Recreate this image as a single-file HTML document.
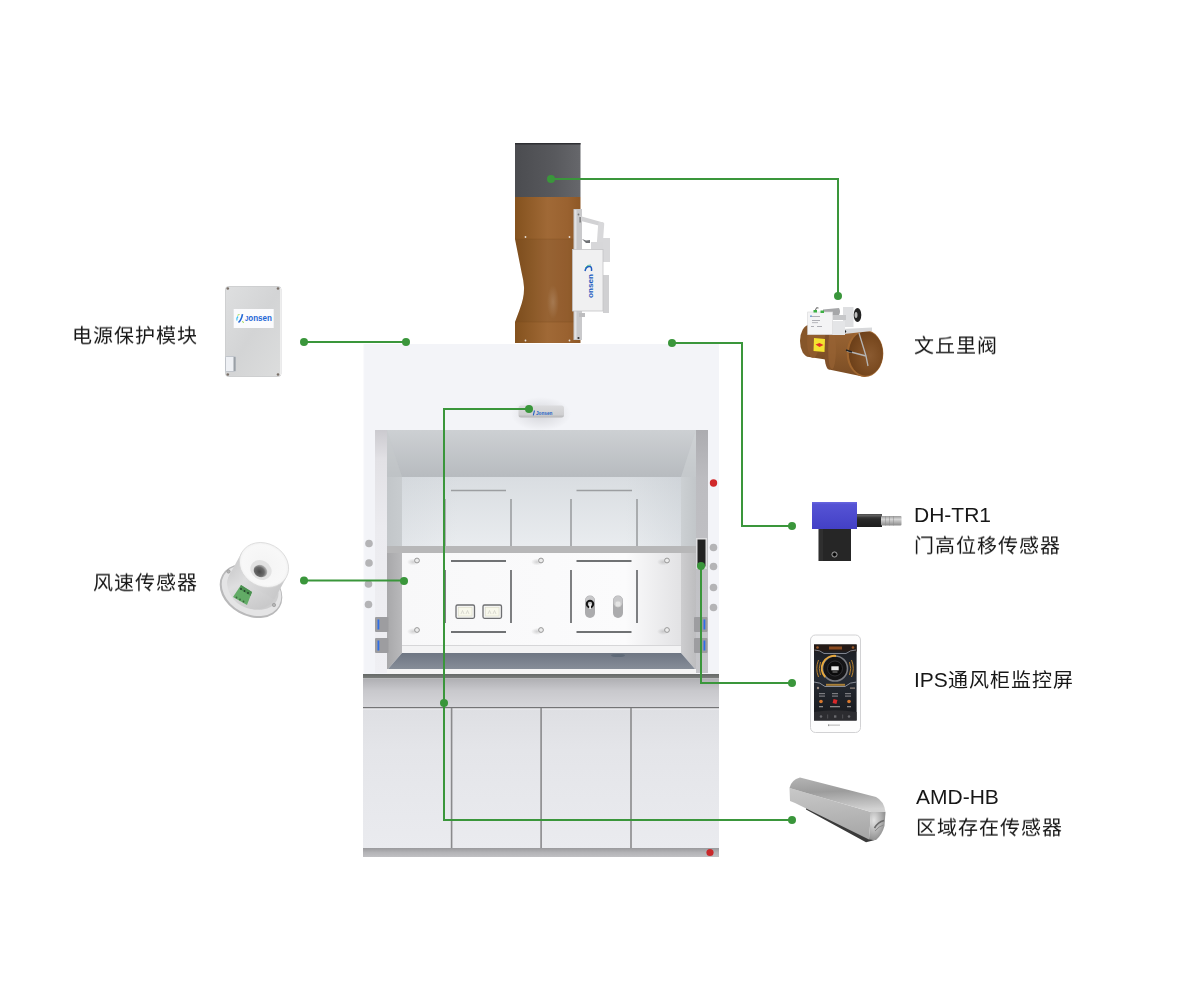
<!DOCTYPE html>
<html lang="zh-CN"><head><meta charset="utf-8"><style>
html,body{margin:0;padding:0;}
body{width:1200px;height:1000px;background:#fff;position:relative;overflow:hidden;font-family:"Liberation Sans",sans-serif;}
svg{position:absolute;left:0;top:0;}
.t{position:absolute;font-size:20px;line-height:30px;color:#161616;will-change:transform;letter-spacing:1px;white-space:nowrap;}
.l{font-size:21px;letter-spacing:0;}
.c{display:inline-block;transform:scaleY(0.95);transform-origin:0 50%;}
</style></head><body>
<svg width="1200" height="1000" viewBox="0 0 1200 1000">
<defs>
<linearGradient id="gDuctDark" x1="0" x2="1" y1="0" y2="0"><stop offset="0" stop-color="#4b4c50"/><stop offset="0.6" stop-color="#58595d"/><stop offset="1" stop-color="#66676b"/></linearGradient>
<linearGradient id="gDuctBrown" x1="0" x2="1" y1="0" y2="0"><stop offset="0" stop-color="#84521e"/><stop offset="0.5" stop-color="#a06936"/><stop offset="0.8" stop-color="#9a6230"/><stop offset="1" stop-color="#8e5826"/></linearGradient>
<linearGradient id="gCeil" x1="0" x2="0" y1="0" y2="1"><stop offset="0" stop-color="#cdd0d3"/><stop offset="1" stop-color="#b7bbbf"/></linearGradient>
<linearGradient id="gBackH" x1="0" x2="1" y1="0" y2="0"><stop offset="0" stop-color="#b0b8c0" stop-opacity="0.12"/><stop offset="0.2" stop-color="#b0b8c0" stop-opacity="0"/><stop offset="0.8" stop-color="#b0b8c0" stop-opacity="0"/><stop offset="1" stop-color="#a8b0b8" stop-opacity="0.2"/></linearGradient>
<linearGradient id="gBack" x1="0" x2="0" y1="0" y2="1"><stop offset="0" stop-color="#d9dde1"/><stop offset="1" stop-color="#e9ecef"/></linearGradient>
<linearGradient id="gSideUL" x1="0" x2="1" y1="0" y2="0"><stop offset="0" stop-color="#c2c6c9"/><stop offset="1" stop-color="#c8cccf"/></linearGradient>
<linearGradient id="gSideUR" x1="0" x2="1" y1="0" y2="0"><stop offset="0" stop-color="#ccd0d3"/><stop offset="1" stop-color="#c2c6c9"/></linearGradient>
<linearGradient id="gSideL" x1="0" x2="1" y1="0" y2="0"><stop offset="0" stop-color="#a8a8aa"/><stop offset="1" stop-color="#b9b9bb"/></linearGradient>
<linearGradient id="gSideR" x1="0" x2="1" y1="0" y2="0"><stop offset="0" stop-color="#cdcdcf"/><stop offset="1" stop-color="#bdbdbf"/></linearGradient>
<linearGradient id="gPostL" x1="0" x2="0" y1="0" y2="1"><stop offset="0" stop-color="#cbcacf"/><stop offset="0.12" stop-color="#e2e1e5"/><stop offset="0.4" stop-color="#ebebef"/><stop offset="1" stop-color="#efeff3"/></linearGradient>
<linearGradient id="gPostR" x1="0" x2="0" y1="0" y2="1"><stop offset="0" stop-color="#acacb0"/><stop offset="0.2" stop-color="#bcbcc0"/><stop offset="1" stop-color="#c6c6ca"/></linearGradient>
<linearGradient id="gPost" x1="0" x2="0" y1="0" y2="1"><stop offset="0" stop-color="#cfcdd1"/><stop offset="0.3" stop-color="#e3e2e6"/><stop offset="1" stop-color="#e8e8ec"/></linearGradient>
<linearGradient id="gPanel" x1="0" x2="1" y1="0" y2="0"><stop offset="0" stop-color="#f8f8f9"/><stop offset="0.8" stop-color="#fbfbfc"/><stop offset="1" stop-color="#e2e2e4"/></linearGradient>
<linearGradient id="gWork" x1="0" x2="0" y1="0" y2="1"><stop offset="0" stop-color="#6e7683"/><stop offset="1" stop-color="#868d98"/></linearGradient>
<linearGradient id="gCounter" x1="0" x2="0" y1="0" y2="1"><stop offset="0" stop-color="#656967"/><stop offset="1" stop-color="#7c7e7d"/></linearGradient>
<linearGradient id="gApron" x1="0" x2="0" y1="0" y2="1"><stop offset="0" stop-color="#b0b0b4"/><stop offset="0.4" stop-color="#c8c8cc"/><stop offset="1" stop-color="#d6d6da"/></linearGradient>
<linearGradient id="gDoor" x1="0" x2="0" y1="0" y2="1"><stop offset="0" stop-color="#dedfe3"/><stop offset="0.3" stop-color="#e4e5e9"/><stop offset="1" stop-color="#eaebef"/></linearGradient>
<linearGradient id="gBase" x1="0" x2="0" y1="0" y2="1"><stop offset="0" stop-color="#9a9a9d"/><stop offset="0.5" stop-color="#b3b3b6"/><stop offset="1" stop-color="#c0c0c3"/></linearGradient>
</defs>

<!-- duct -->
<rect x="515" y="143" width="65.5" height="54" fill="url(#gDuctDark)"/>
<rect x="515" y="143" width="65.5" height="1.5" fill="#2e2f33"/>
<path d="M515 197 H580.5 V343 H515 V322 L519.5 310 Q524.5 297 524 287 Q523.5 280 521.5 272 L515 239 Z" fill="url(#gDuctBrown)"/>

<!-- hood body -->
<rect x="363" y="344" width="356" height="513" fill="#f3f4f8"/>
<rect x="363" y="344" width="1.2" height="513" fill="#fafafc"/>
<!-- ceiling -->
<path d="M375 430 H708 V477 H375 Z" fill="url(#gCeil)"/>
<!-- back wall -->
<rect x="402" y="477" width="279" height="69" fill="url(#gBack)"/>
<rect x="402" y="477" width="279" height="69" fill="url(#gBackH)"/>
<!-- side walls -->
<path d="M387 477 H402 V546 H387 Z" fill="url(#gSideUL)"/>
<path d="M387 430 L402 477 H387 Z" fill="#c6c9cc" opacity="0.5"/>
<path d="M387 553 H402 V653 L388 669 H387 Z" fill="url(#gSideL)"/>
<path d="M696 477 H681 V546 H696 Z" fill="url(#gSideUR)"/>
<path d="M696 430 L681 477 H696 Z" fill="#d2d5d8" opacity="0.5"/>
<path d="M696 553 H681 V653 L695 669 H696 Z" fill="url(#gSideR)"/>
<!-- posts -->
<rect x="375" y="430" width="12" height="243" fill="url(#gPostL)"/>
<rect x="696" y="430" width="12" height="243" fill="url(#gPostR)"/>
<!-- back panel lines -->
<g stroke="#9c9ea1" stroke-width="1.6">
<path d="M451 490.5 H506 M576.5 490.5 H632 M445 499 V546 M511 499 V546 M571 499 V546 M637 499 V546"/>
</g>
<!-- shelf -->
<rect x="387" y="546" width="309" height="7" fill="#b7b7b8"/>
<!-- lower panel -->
<rect x="402" y="553" width="279" height="92" fill="url(#gPanel)"/>
<rect x="402" y="645" width="279" height="8" fill="#f3f3f4"/>
<rect x="402" y="645" width="279" height="1" fill="#d6d6d8"/>
<g stroke="#707274" stroke-width="1.8">
<path d="M451 561 H506 M451 632 H506 M576.5 561 H631.5 M576.5 632 H631.5"/>
<path d="M445 570 V623 M511 570 V623 M571 570 V623 M637 570 V623"/>
</g>
<!-- screws -->
<defs><radialGradient id="gScrSh" cx="0.5" cy="0.5" r="0.5"><stop offset="0" stop-color="#8a8a8a" stop-opacity="0.35"/><stop offset="1" stop-color="#8a8a8a" stop-opacity="0"/></radialGradient></defs>
<g fill="url(#gScrSh)">
<ellipse cx="413" cy="562" rx="6" ry="3.5"/><ellipse cx="413" cy="631.5" rx="6" ry="3.5"/>
<ellipse cx="537" cy="562" rx="6" ry="3.5"/><ellipse cx="537" cy="631.5" rx="6" ry="3.5"/>
<ellipse cx="663" cy="562" rx="6" ry="3.5"/><ellipse cx="663" cy="631.5" rx="6" ry="3.5"/>
</g>
<g fill="#ececec" stroke="#8e8e8e" stroke-width="0.9">
<circle cx="417" cy="560.5" r="2.4"/><circle cx="417" cy="630" r="2.4"/>
<circle cx="541" cy="560.5" r="2.4"/><circle cx="541" cy="630" r="2.4"/>
<circle cx="667" cy="560.5" r="2.4"/><circle cx="667" cy="630" r="2.4"/>
</g>
<!-- outlets -->
<g>
<rect x="456" y="605" width="18.5" height="13.3" rx="1.5" fill="#f4f4f2" stroke="#6e6f72" stroke-width="1.3"/>
<rect x="483" y="605" width="18.5" height="13.3" rx="1.5" fill="#f4f4f2" stroke="#6e6f72" stroke-width="1.3"/>
<rect x="458.5" y="607.3" width="13.5" height="8.7" fill="#f8f8ec" stroke="#dcdcc8" stroke-width="0.6"/>
<rect x="485.5" y="607.3" width="13.5" height="8.7" fill="#f8f8ec" stroke="#dcdcc8" stroke-width="0.6"/>
<path d="M461 614 L462.5 610.5 L464 614 M466 614 L467.5 610.5 L469 614 M488 614 L489.5 610.5 L491 614 M493 614 L494.5 610.5 L496 614" stroke="#c8c8c0" stroke-width="0.6" fill="none"/>
</g>
<!-- switches -->
<rect x="585" y="595.5" width="10" height="22.5" rx="5" fill="#ababad"/>
<rect x="585.5" y="596" width="9" height="11" rx="4.5" fill="#c8c8ca"/>
<circle cx="590" cy="604" r="3.2" fill="none" stroke="#151515" stroke-width="2"/>
<rect x="589.2" y="604" width="1.8" height="5" fill="#eee"/>
<rect x="613" y="595.5" width="10" height="22.5" rx="5" fill="#ababad"/>
<rect x="613.5" y="596" width="9" height="11" rx="4.5" fill="#c8c8ca"/>
<circle cx="618" cy="604" r="3" fill="#e4e4e4" stroke="#cfcfcf" stroke-width="0.8"/>
<!-- work surface -->
<path d="M402 653 H681 L695 669 H388 Z" fill="url(#gWork)"/>
<ellipse cx="618" cy="655.5" rx="7" ry="1.6" fill="#5f6a78"/>
<rect x="387" y="669" width="309" height="5" fill="#f4f4f4"/>
<!-- countertop -->
<rect x="363" y="674" width="356" height="4.5" fill="url(#gCounter)"/>
<rect x="363" y="679" width="356" height="28.5" fill="url(#gApron)"/>
<rect x="363" y="707" width="356" height="1.6" fill="#747476"/>
<rect x="363" y="708.6" width="356" height="139.4" fill="url(#gDoor)"/>
<rect x="363" y="708.6" width="356" height="1" fill="#ededf0"/>
<g fill="#8a8a8c"><rect x="450.8" y="708" width="1.6" height="140"/><rect x="540.3" y="708" width="1.6" height="140"/><rect x="630.2" y="708" width="1.6" height="140"/></g>
<rect x="363" y="848" width="356" height="9" fill="url(#gBase)"/>
<circle cx="710" cy="852.5" r="3.6" fill="#c9282a"/>
<circle cx="713.5" cy="483" r="3.7" fill="#d0282a"/>
<!-- side frame circles -->
<g fill="#b4b4b6">
<circle cx="369" cy="543.5" r="3.8"/><circle cx="369" cy="563" r="3.8"/><circle cx="368.5" cy="584" r="3.8"/><circle cx="368.5" cy="604.5" r="3.8"/>
<circle cx="713.5" cy="547.5" r="3.8"/><circle cx="713.5" cy="566.5" r="3.8"/><circle cx="713.5" cy="587.5" r="3.8"/><circle cx="713.5" cy="607.5" r="3.8"/>
</g>
<!-- hinges -->
<g fill="#9d9da0">
<rect x="375" y="617" width="13.5" height="15" rx="1"/><rect x="375" y="638" width="13.5" height="15" rx="1"/>
<rect x="694" y="617" width="13.5" height="15" rx="1"/><rect x="694" y="638" width="13.5" height="15" rx="1"/>
</g>
<g fill="#2f6fe8">
<rect x="377.5" y="619.5" width="1.8" height="10"/><rect x="377.5" y="640.5" width="1.8" height="10"/>
<rect x="703.5" y="619.5" width="1.8" height="10"/><rect x="703.5" y="640.5" width="1.8" height="10"/>
</g>
<!-- door sensor -->
<rect x="696" y="538" width="11" height="31" fill="#dcdcde"/>
<rect x="697.5" y="539.5" width="8" height="27" fill="#222"/>
<!-- top sensor -->
<defs><radialGradient id="gShadow" cx="0.5" cy="0.5" r="0.5"><stop offset="0" stop-color="#9a9aa0" stop-opacity="0.35"/><stop offset="1" stop-color="#9a9aa0" stop-opacity="0"/></radialGradient>
<linearGradient id="gSens" x1="0" x2="0" y1="0" y2="1"><stop offset="0" stop-color="#dcdcde"/><stop offset="0.75" stop-color="#cfcfd1"/><stop offset="1" stop-color="#b5b5b7"/></linearGradient></defs>
<ellipse cx="541" cy="414" rx="30" ry="17" fill="url(#gShadow)"/>
<rect x="518.5" y="405.5" width="45.5" height="12" rx="2.5" fill="url(#gSens)"/>
<text x="536" y="414.8" font-family="Liberation Sans" font-weight="bold" font-size="5.5" fill="#1f5fc4" textLength="16.5" lengthAdjust="spacingAndGlyphs">Jonsen</text><path d="M534.5 410.5 L533.3 415.3" stroke="#1f5fc4" stroke-width="1.1"/>
<!-- duct shading -->
<path d="M515 239 L521.5 272 Q523.5 280 524 287 Q524.5 297 519.5 310 L515 322 H580.5 V239 Z" fill="#000" opacity="0.05"/>
<rect x="515" y="321.5" width="65.5" height="1" fill="#7a4c1c" opacity="0.35"/>
<rect x="515" y="238.5" width="65.5" height="1" fill="#7a4c1c" opacity="0.25"/>
<defs><radialGradient id="gHi"><stop offset="0" stop-color="#fff" stop-opacity="0.15"/><stop offset="1" stop-color="#fff" stop-opacity="0"/></radialGradient></defs><ellipse cx="553" cy="302" rx="6" ry="17" fill="url(#gHi)"/>
<g fill="#e8e0d8"><circle cx="525.5" cy="237" r="0.9"/><circle cx="569.5" cy="237" r="0.9"/><circle cx="525.5" cy="340.5" r="0.9"/><circle cx="569.5" cy="340.5" r="0.9"/></g>
<!-- valve actuator on duct -->
<g>
<rect x="573.5" y="209" width="8.5" height="131" fill="#c9c9cb"/>
<rect x="574.5" y="210" width="2" height="129" fill="#e2e2e4"/>
<path d="M580 216 L603 222.5 L602.5 226.5 L579 220.5 Z" fill="#d2d2d4"/>
<rect x="579.5" y="217" width="1.2" height="5.5" fill="#666"/>
<circle cx="578.5" cy="214.5" r="0.9" fill="#777"/>
<path d="M582 239 L586 240.5 L590 240 L590 243 L586 243 Z" fill="#707276"/>
<rect x="597.5" y="222" width="6" height="25" rx="1.5" fill="#d8d8da" transform="rotate(4 600 234)"/>
<rect x="591" y="242" width="14" height="10" fill="#d7d7d9"/>
<rect x="603" y="238" width="7" height="24" fill="#d8d8da"/>
<rect x="603" y="275" width="6" height="38" fill="#d0d0d2"/>
<rect x="572.5" y="249.5" width="30.5" height="61.5" fill="#f0f0f1"/>
<rect x="572.5" y="249.5" width="30.5" height="61.5" fill="none" stroke="#c4c4c6" stroke-width="0.8"/>
<rect x="579" y="313" width="6" height="4" fill="#bdbdbf"/>
<circle cx="578.5" cy="338" r="1.1" fill="#333"/>
<text transform="translate(592.5,298) rotate(-90)" font-family="Liberation Sans" font-weight="bold" font-size="8" fill="#1f5bc0" textLength="24" lengthAdjust="spacingAndGlyphs">onsen</text><path d="M585 271 Q586 266 590 266.5 Q592 267 591.5 271" stroke="#1f5bc0" stroke-width="1.5" fill="none"/><path d="M585 268 Q587 264.5 591 265" stroke="#5cc0a0" stroke-width="1" fill="none"/>
</g>

<!-- power module -->
<defs>
<linearGradient id="gBox" x1="0" x2="1" y1="0" y2="1"><stop offset="0" stop-color="#dedfe0"/><stop offset="0.5" stop-color="#d3d4d5"/><stop offset="1" stop-color="#dcdddd"/></linearGradient>
</defs>
<rect x="225.5" y="286.5" width="55.5" height="90" rx="3" fill="url(#gBox)"/>
<rect x="225.5" y="286.5" width="55.5" height="90" rx="3" fill="none" stroke="#c2c3c4" stroke-width="0.7"/>
<rect x="280" y="288" width="1" height="87" fill="#eeeeee"/>
<g fill="#7a7068"><circle cx="227.8" cy="288.5" r="1.3"/><circle cx="278" cy="288.5" r="1.3"/><circle cx="227.8" cy="374.5" r="1.3"/><circle cx="278" cy="374.5" r="1.3"/></g>
<rect x="233.7" y="309" width="40" height="19" fill="#fbfbfd"/>
<text x="245" y="321.3" font-family="Liberation Sans" font-weight="bold" fill="#1f66d6" textLength="27" lengthAdjust="spacingAndGlyphs"><tspan font-size="7">J</tspan><tspan font-size="9.5">onsen</tspan></text>
<path d="M242.5 314.2 Q241.5 320 238.5 322.5" fill="none" stroke="#1f66d6" stroke-width="1.6"/>
<path d="M238 316.5 Q236 318.5 237 320.5" fill="none" stroke="#3cc0f0" stroke-width="1.3"/>
<path d="M237.5 315.2 L239.5 314.5 M242.5 321 L243.5 323" stroke="#9ad848" stroke-width="1"/>
<rect x="225.5" y="356.5" width="10" height="15" rx="0.8" fill="#eef0f4" stroke="#aab0b8" stroke-width="0.6"/>
<rect x="233.5" y="357" width="2" height="14" fill="#9aa0a6"/>

<!-- wind speed sensor -->
<defs>
<radialGradient id="gHole" cx="0.45" cy="0.6" r="0.6"><stop offset="0" stop-color="#4a4a4a"/><stop offset="0.6" stop-color="#6a6a6a"/><stop offset="1" stop-color="#bdbdbd"/></radialGradient>
<linearGradient id="gCyl" x1="0" x2="1" y1="0" y2="0.6"><stop offset="0" stop-color="#c4c4c5"/><stop offset="0.45" stop-color="#dededf"/><stop offset="1" stop-color="#c9c9ca"/></linearGradient>
<radialGradient id="gFace" cx="0.5" cy="0.5" r="0.55"><stop offset="0" stop-color="#f4f4f4"/><stop offset="0.8" stop-color="#f8f8f8"/><stop offset="1" stop-color="#ececec"/></radialGradient>
</defs>
<ellipse cx="251" cy="591" rx="33" ry="25" transform="rotate(29 251 591)" fill="#b9b9ba"/>
<ellipse cx="251.5" cy="590.5" rx="31.5" ry="23.5" transform="rotate(29 251.5 590.5)" fill="#e4e4e5"/>
<ellipse cx="253" cy="588" rx="27" ry="20" transform="rotate(29 253 588)" fill="#cdcdce"/>
<ellipse cx="252" cy="587" rx="25.5" ry="21.5" transform="rotate(29 252 587)" fill="url(#gCyl)"/>
<path d="M241.7 552.6 L286.3 577.4 L274.3 599.4 L229.7 574.6 Z" fill="url(#gCyl)"/>
<ellipse cx="264" cy="565" rx="25.5" ry="21.5" transform="rotate(29 264 565)" fill="url(#gFace)" stroke="#d6d6d6" stroke-width="0.7"/>
<ellipse cx="261" cy="570" rx="11" ry="9.5" transform="rotate(29 261 570)" fill="#e2e2e2"/>
<ellipse cx="260.5" cy="571" rx="7" ry="6" transform="rotate(29 260.5 571)" fill="url(#gHole)"/>
<path d="M241 585 L252 592 L247 605 L233 597 Z" fill="#62ab66"/>
<path d="M241 585 L252 592 L250.5 596 L239.5 589 Z" fill="#4b9150"/>
<g fill="#24402a"><circle cx="241" cy="589" r="0.9"/><circle cx="244.5" cy="591" r="0.9"/><circle cx="248" cy="593" r="0.9"/></g>
<g fill="#3a6a3e"><circle cx="236.5" cy="597.5" r="0.9"/><circle cx="240" cy="599.5" r="0.9"/><circle cx="243.5" cy="601.5" r="0.9"/></g>
<circle cx="228.5" cy="571.5" r="1.7" fill="#b5b5b5" stroke="#888" stroke-width="0.5"/>
<circle cx="274" cy="605" r="1.7" fill="#b5b5b5" stroke="#888" stroke-width="0.5"/>

<!-- venturi valve device -->
<defs>
<linearGradient id="gVB" x1="0" x2="0" y1="0" y2="1"><stop offset="0" stop-color="#9a6434"/><stop offset="0.5" stop-color="#8c5a2c"/><stop offset="1" stop-color="#7a4c24"/></linearGradient>
<radialGradient id="gVIn" cx="0.62" cy="0.55" r="0.65"><stop offset="0" stop-color="#8a5a30"/><stop offset="0.5" stop-color="#7c4c22"/><stop offset="1" stop-color="#6a3e18"/></radialGradient>
</defs>
<ellipse cx="809" cy="341" rx="9" ry="16" fill="#86562a"/>
<path d="M809 325 L829 327 L829 360 L809 357 Z" fill="url(#gVB)"/>
<ellipse cx="813" cy="342" rx="6" ry="16" fill="#915d2e" opacity="0.8"/>
<ellipse cx="829" cy="349" rx="5" ry="20.5" fill="#80502a"/>
<path d="M829 328.5 L865 330 L865 377 L829 369.5 Z" fill="url(#gVB)"/>
<ellipse cx="832" cy="349" rx="4" ry="20" fill="#976333" opacity="0.7"/>
<ellipse cx="865" cy="353.5" rx="18.3" ry="23.5" fill="#a0662f"/>
<ellipse cx="865.8" cy="353.5" rx="17" ry="22.3" fill="url(#gVIn)"/>
<path d="M859 333 L866 356 M847 351 L866 356 M866 356 L868 366" stroke="#b5b5b5" stroke-width="1.3" fill="none"/>
<path d="M846 350 L852 352" stroke="#222" stroke-width="1.4"/>
<path d="M814 338 L825 339 L824.5 352 L813.5 351 Z" fill="#f3e230"/>
<path d="M815.5 344.5 L819.5 343 L823.5 345 L819.5 347 Z" fill="#e0302a"/>
<!-- actuator on valve -->
<path d="M842 329 L872 327.5 L872 331 L844 334 Z" fill="#d8d9db"/>
<circle cx="845" cy="331.5" r="1.2" fill="#222"/>
<rect x="843" y="307" width="10.5" height="20" fill="#dedfe1"/>
<ellipse cx="857.5" cy="315" rx="3.8" ry="7" fill="#222"/>
<ellipse cx="856" cy="315" rx="1.5" ry="3" fill="#bbb"/>
<path d="M823 309.5 L839 308 Q841 311.5 839 315 L823 316 Z" fill="#a6a7a9"/>
<rect x="833" y="315" width="13" height="5" fill="#c6c7c9"/>
<rect x="832" y="321" width="13" height="14" fill="#e4e5e7"/>
<rect x="807.7" y="312" width="25" height="22.7" fill="#f4f4f5"/>
<rect x="807.7" y="312" width="25" height="22.7" fill="none" stroke="#d6d6d8" stroke-width="0.6"/>
<g fill="#a8a8ae"><rect x="810" y="316" width="10" height="0.9"/><rect x="812" y="320" width="8" height="0.9"/><rect x="812" y="322.3" width="6" height="0.8"/><rect x="811" y="326" width="3" height="0.9"/><rect x="817" y="326" width="5" height="0.9"/></g>
<rect x="810" y="315.5" width="2" height="1.2" fill="#6aa0d8"/>
<g fill="#3cb043"><rect x="813.5" y="310" width="3.5" height="2.5"/><rect x="820.5" y="310.5" width="3.5" height="2.5"/></g>
<path d="M815.5 310 Q816 306.5 818.5 308" stroke="#333" stroke-width="0.8" fill="none"/>
<!-- DH-TR1 -->
<defs>
<linearGradient id="gBlue" x1="0" x2="0" y1="0" y2="1"><stop offset="0" stop-color="#5755d6"/><stop offset="1" stop-color="#4340c6"/></linearGradient>
<linearGradient id="gCab" x1="0" x2="0" y1="0" y2="1"><stop offset="0" stop-color="#555"/><stop offset="0.4" stop-color="#2a2a2a"/><stop offset="1" stop-color="#1e1e1e"/></linearGradient>
<linearGradient id="gCon" x1="0" x2="0" y1="0" y2="1"><stop offset="0" stop-color="#9a9a9a"/><stop offset="0.35" stop-color="#d6d6d6"/><stop offset="1" stop-color="#8a8a8a"/></linearGradient>
</defs>
<rect x="818.5" y="529" width="32.5" height="32" fill="#262626"/>
<rect x="819" y="529" width="4" height="32" fill="#333" opacity="0.7"/>
<circle cx="834.5" cy="554.5" r="2.6" fill="none" stroke="#bbb" stroke-width="0.8"/>
<circle cx="834.5" cy="554.5" r="1.2" fill="#000"/>
<rect x="857" y="514" width="25" height="13" fill="url(#gCab)"/>
<rect x="881" y="516" width="20.5" height="9.5" rx="1" fill="url(#gCon)"/>
<g fill="#8c8c8c" opacity="0.7"><rect x="885" y="516" width="0.7" height="9.5"/><rect x="889" y="516" width="0.7" height="9.5"/><rect x="893" y="516" width="0.7" height="9.5"/></g>
<rect x="857" y="515" width="25" height="1.5" fill="#6a6a6a" opacity="0.6"/>
<rect x="812" y="502" width="45" height="27" fill="url(#gBlue)"/>
<rect x="812" y="502" width="45" height="1.5" fill="#6563de"/>

<!-- IPS screen -->
<defs>
<linearGradient id="gScr" x1="0" x2="0" y1="0" y2="1"><stop offset="0" stop-color="#1b1d22"/><stop offset="0.45" stop-color="#252a33"/><stop offset="1" stop-color="#18191c"/></linearGradient>
</defs>
<rect x="810.5" y="635" width="50" height="97.5" rx="5" fill="#fdfdfd" stroke="#d2d2d4" stroke-width="1"/>
<rect x="814" y="644.5" width="42.6" height="76" fill="url(#gScr)"/>
<rect x="814" y="644.5" width="42.6" height="7" fill="#241a16"/>
<rect x="829" y="646.5" width="13" height="3" fill="#8a4a1e"/>
<g fill="#9a5a2a"><circle cx="817.5" cy="647.5" r="1.3"/><circle cx="853" cy="647.5" r="1.3"/></g>
<path d="M814.5 650 Q820 650 824 653.5 H846 Q850 650 856 650" stroke="#8a8e98" stroke-width="0.9" fill="none"/>
<circle cx="835" cy="668.5" r="13.2" fill="#141416"/>
<circle cx="835" cy="668.5" r="12.5" fill="none" stroke="#7a7c82" stroke-width="1.6"/>
<path d="M825.2 677 A12.5 12.5 0 0 1 836 656" fill="none" stroke="#e8a83a" stroke-width="2"/>
<circle cx="835" cy="668.5" r="7.5" fill="#0a0a0b" stroke="#3a3a3e" stroke-width="0.8"/>
<rect x="831.3" y="666.3" width="7.4" height="4" fill="#e6e6e6"/>
<rect x="832.5" y="671.5" width="5" height="1" fill="#888"/>
<path d="M818.5 660 Q815 668.5 818.5 677 M820.5 662 Q818 668.5 820.5 675" stroke="#b8822e" stroke-width="1" fill="none"/>
<path d="M851.5 660 Q855 668.5 851.5 677 M849.5 662 Q852 668.5 849.5 675" stroke="#b8822e" stroke-width="1" fill="none"/>
<path d="M814 682 Q820 682 825 686.5 H845 Q850 682 856.6 682" stroke="#8a8e98" stroke-width="1" fill="none"/>
<rect x="826" y="683.8" width="19" height="2" fill="#b88a3a" opacity="0.9"/>
<g fill="#9a8a80"><circle cx="818" cy="688" r="1.2"/><rect x="850" y="687.5" width="5" height="1.2"/></g>
<g fill="#7c7c80"><rect x="819" y="693" width="6" height="1.2"/><rect x="819" y="695.5" width="6" height="1.2"/><rect x="832" y="693" width="6" height="1.2"/><rect x="832" y="695.5" width="6" height="1.2"/><rect x="845" y="693" width="6" height="1.2"/><rect x="845" y="695.5" width="6" height="1.2"/></g>
<g fill="#d8782e"><circle cx="821" cy="701.5" r="1.8"/><circle cx="849" cy="701.5" r="1.8"/></g>
<rect x="833" y="699.5" width="4" height="4" fill="#d8282a" transform="rotate(15 835 701.5)"/>
<g fill="#8a8a8a"><rect x="819" y="706" width="4" height="1.3"/><rect x="830" y="706" width="10" height="1.3"/><rect x="847" y="706" width="4" height="1.3"/></g>
<path d="M814 712 Q835 708.5 856.6 712 V720.5 H814 Z" fill="#2c2c30"/>
<g fill="#6a6a6e"><circle cx="821" cy="716.5" r="1.3"/><rect x="834" y="715.3" width="2.4" height="2.4"/><circle cx="849" cy="716.5" r="1.3"/><rect x="827.5" y="714.5" width="0.6" height="4"/><rect x="842.5" y="714.5" width="0.6" height="4"/></g>
<rect x="830" y="724.5" width="10" height="1.3" fill="#c4c4c4"/>
<rect x="828" y="724.3" width="1.5" height="1.8" fill="#999"/>

<!-- AMD-HB -->
<defs>
<linearGradient id="gBarTop" x1="0" x2="0.12" y1="0" y2="1"><stop offset="0" stop-color="#b4b4b4"/><stop offset="0.45" stop-color="#9c9c9c"/><stop offset="0.85" stop-color="#c2c2c2"/><stop offset="1" stop-color="#d2d2d2"/></linearGradient>
<linearGradient id="gBarFront" x1="0" x2="0.1" y1="0" y2="1"><stop offset="0" stop-color="#c8c8c8"/><stop offset="1" stop-color="#a8a8a8"/></linearGradient>
<radialGradient id="gBarEnd" cx="0.3" cy="0.3" r="0.9"><stop offset="0" stop-color="#e4e4e4"/><stop offset="0.5" stop-color="#b0b0b0"/><stop offset="1" stop-color="#7a7a7a"/></radialGradient>
</defs>
<path d="M806 806.5 L869 838.5 L875 840 L866 842.3 L806 809.5 Z" fill="#3a3a3a"/>
<path d="M789.5 788 L871 812 L869 839.5 L795 803 L790 801 Z" fill="url(#gBarFront)"/>
<path d="M789.5 788 Q791 780 800 777.5 L876 797 Q884 801 885.5 812 L871 812 Z" fill="url(#gBarTop)"/>
<path d="M871 812 L885.5 812 L884.5 826 Q882 835 876 840 L869 839.5 Z" fill="url(#gBarEnd)"/>
<path d="M874.5 828 Q878 822 884 820.5" stroke="#6a6a6a" stroke-width="1.6" fill="none"/><path d="M875 831 Q879 826 883.5 825" stroke="#8a8a8a" stroke-width="1" fill="none"/>
<!-- green connector lines -->
<g stroke="#3a963b" stroke-width="2" fill="none">
<path d="M551 179 H838 V296"/>
<path d="M304 342 H406"/>
<path d="M672 343 H742 V526 H792"/>
<path d="M304 580.5 H404"/>
<path d="M529 409 H444 V820 H792"/>
<path d="M701 566 V683 H792"/>
</g>
<g fill="#3a963b">
<circle cx="551" cy="179" r="4"/><circle cx="838" cy="296" r="4"/>
<circle cx="304" cy="342" r="4"/><circle cx="406" cy="342" r="4"/>
<circle cx="672" cy="343" r="4"/><circle cx="792" cy="526" r="4"/>
<circle cx="304" cy="580.5" r="4"/><circle cx="404" cy="581" r="4"/>
<circle cx="529" cy="409" r="4"/><circle cx="444" cy="703" r="4"/><circle cx="792" cy="820" r="4"/>
<circle cx="701" cy="566" r="4"/><circle cx="792" cy="683" r="4"/>
</g>
</svg>
<div class="t c" style="left:72px;top:321px">电源保护模块</div>
<div class="t c" style="left:93px;top:568px">风速传感器</div>
<div class="t c" style="left:914px;top:331px">文丘里阀</div>
<div class="t l" style="left:914px;top:500px">DH-TR1</div>
<div class="t c" style="left:914px;top:531px">门高位移传感器</div>
<div class="t" style="left:914px;top:665px"><span class="l">IPS</span><span class="c">通风柜监控屏</span></div>
<div class="t l" style="left:916px;top:782px">AMD-HB</div>
<div class="t c" style="left:915.5px;top:812.5px">区域存在传感器</div>
</body></html>
